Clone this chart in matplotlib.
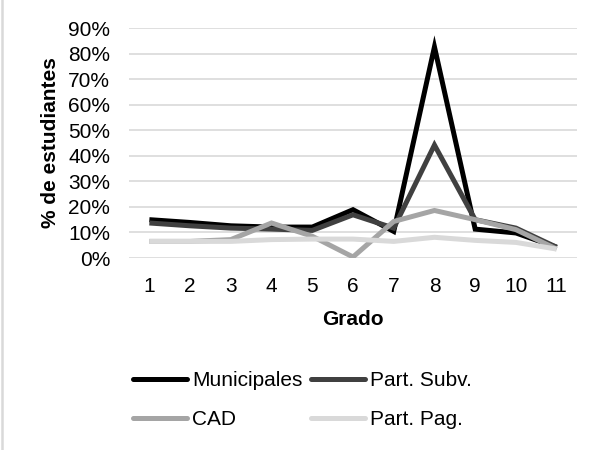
import matplotlib.pyplot as plt
from matplotlib.ticker import PercentFormatter
from matplotlib.lines import Line2D

plt.rcParams['font.family'] = ['Liberation Sans', 'DejaVu Sans']

grados = [1, 2, 3, 4, 5, 6, 7, 8, 9, 10, 11]
municipales = [15.0, 13.9, 12.6, 12.1, 12.1, 18.9, 10.4, 82.6, 11.3, 9.8, 4.2]
part_subv = [13.7, 12.6, 11.7, 11.3, 10.8, 16.9, 11.7, 44.2, 15.0, 11.7, 4.2]
cad = [6.5, 6.5, 7.2, 13.7, 8.5, 0.4, 14.3, 18.6, 15.0, 11.1, 3.5]
part_pag = [6.5, 6.5, 6.5, 7.2, 7.4, 7.4, 6.5, 8.1, 6.9, 6.1, 3.5]

series = [
    ('Municipales', municipales, '#000000'),
    ('Part. Subv.', part_subv, '#404040'),
    ('CAD', cad, '#a5a5a5'),
    ('Part. Pag.', part_pag, '#d9d9d9'),
]

fig = plt.figure(figsize=(4.04, 3.0), dpi=150)
ax = fig.add_axes([129 / 606, 1 - 258 / 450, 448 / 606, 230 / 450])

for name, vals, col in series:
    ax.plot(grados, [v / 100 for v in vals], color=col, lw=2.4, label=name,
            solid_joinstyle='miter', solid_capstyle='butt')

ax.set_xlim(0.5, 11.5)
ax.set_ylim(0, 0.9)
ax.set_yticks([i / 10 for i in range(10)])
ax.yaxis.set_major_formatter(PercentFormatter(1.0, decimals=0))
ax.set_xticks(grados)
ax.grid(axis='y', color='#d9d9d9', lw=0.8)
ax.set_axisbelow(True)
for s in ax.spines.values():
    s.set_visible(False)
ax.tick_params(length=0, labelsize=10)
ax.tick_params(axis='x', pad=9)
ax.tick_params(axis='y', pad=9)
ax.set_xlabel('Grado', fontsize=10, fontweight='bold', labelpad=7)
ax.set_ylabel('% de estudiantes', fontsize=10, fontweight='bold', labelpad=4)

# order so rows read Municipales / Part. Subv. then CAD / Part. Pag.
handles, labels = ax.get_legend_handles_labels()
order = [0, 2, 1, 3]
leg = fig.legend([handles[i] for i in order], [labels[i] for i in order],
                 loc='center', bbox_to_anchor=(0.499, 0.111),
                 ncol=2, frameon=False, fontsize=10, handlelength=2.6,
                 handletextpad=0.25, columnspacing=0.4, labelspacing=0.95)
for line in leg.get_lines():
    line.set_solid_capstyle('round')

fig.add_artist(Line2D([0.004, 0.004], [0, 1], transform=fig.transFigure,
                      color='#d9d9d9', lw=1.2))

fig.savefig('out.png', dpi=150)
